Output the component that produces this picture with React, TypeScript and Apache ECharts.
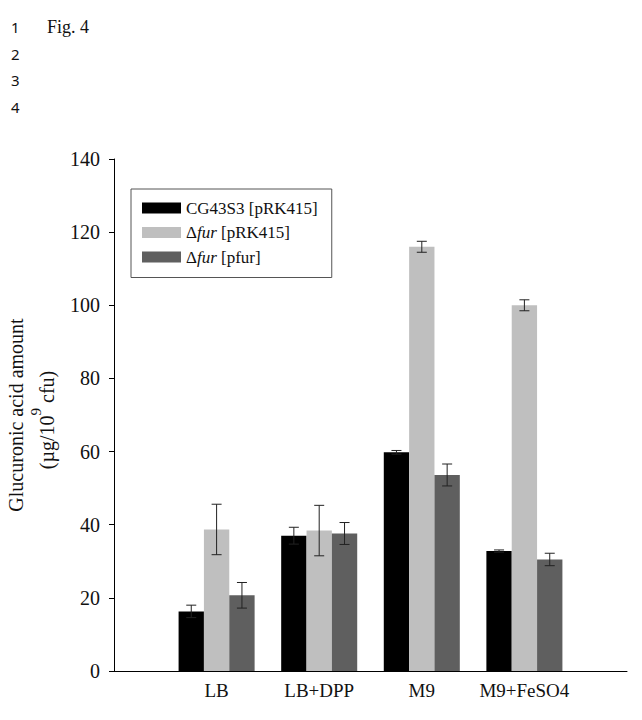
import React, { useEffect, useRef } from "react";
import * as echarts from "echarts";

// Growth conditions along the x axis
const CATEGORIES = ["LB", "LB+DPP", "M9", "M9+FeSO4"];

// Strains (legend order)
const SERIES_NAMES = ["CG43S3 [pRK415]", "Δfur [pRK415]", "Δfur [pfur]"];
const SERIES_COLORS = ["#000000", "#bfbfbf", "#5f5f5f"];

// Glucuronic acid amount (µg/10^9 cfu), means
const WT_MEAN = [16.3, 37.0, 59.8, 32.8];
const FUR_MEAN = [38.7, 38.4, 116.0, 100.0];
const COMP_MEAN = [20.7, 37.6, 53.6, 30.5];

// Standard deviations
const WT_SD = [1.7, 2.3, 0.5, 0.3];
const FUR_SD = [6.9, 6.9, 1.5, 1.5];
const COMP_SD = [3.5, 3.0, 3.0, 1.7];

// Y axis ticks
const Y_MIN = 0;
const Y_MAX = 140;
const Y_STEP = 20;

const SERIF = "Liberation Serif";
const BAR_FRACTION = 0.247; // each bar as a share of one category slot

function textWidth(text: string, font: string): number {
  const ctx = document.createElement("canvas").getContext("2d");
  if (!ctx) return text.length * 9;
  ctx.font = font;
  return ctx.measureText(text).width;
}

export default function App() {
  const ref = useRef<HTMLDivElement>(null);

  useEffect(() => {
    if (!ref.current) return;
    const chart = echarts.init(ref.current, undefined, { renderer: "svg" });

    // one empty slot at each end keeps a category's width of margin beside the groups
    const axisCats = ["", ...CATEGORIES, ""];
    const pad = (arr: number[]) => [null, ...arr, null];

    const means = [WT_MEAN, FUR_MEAN, COMP_MEAN];
    const sds = [WT_SD, FUR_SD, COMP_SD];

    const errData: number[][] = [];
    means.forEach((m, k) => {
      m.forEach((v, i) => {
        errData.push([i + 1, v, sds[k][i], k]);
      });
    });

    const barSeries = SERIES_NAMES.map((name, k) => ({
      name,
      type: "bar",
      data: pad(means[k]),
      barWidth: (BAR_FRACTION * 100).toFixed(1) + "%",
      barGap: "0%",
      itemStyle: { color: SERIES_COLORS[k] },
    }));

    const errorSeries = {
      type: "custom",
      z: 10,
      data: errData,
      encode: { x: 0, y: 1 },
      renderItem: (params: any, api: any) => {
        const ci = api.value(0);
        const v = api.value(1);
        const e = api.value(2);
        const k = api.value(3);
        const band = api.size([1, 0])[0];
        const bw = band * BAR_FRACTION;
        const cx = api.coord([ci, v])[0] + (k - 1) * bw;
        const yTop = api.coord([ci, v + e])[1];
        const yBot = api.coord([ci, v - e])[1];
        const cap = 5;
        const style = { stroke: "#222222", lineWidth: 1 };
        return {
          type: "group",
          children: [
            { type: "line", shape: { x1: cx, y1: yTop, x2: cx, y2: yBot }, style },
            { type: "line", shape: { x1: cx - cap, y1: yTop, x2: cx + cap, y2: yTop }, style },
            { type: "line", shape: { x1: cx - cap, y1: yBot, x2: cx + cap, y2: yBot }, style },
          ],
        };
      },
    };

    // second title line "(µg/10⁹ cfu)", laid out piece by piece, reading bottom to top
    const mainFont = "20px Liberation Serif";
    const supFont = "15px Liberation Serif";
    const partA = "(µg/10";
    const partB = "9";
    const partC = " cfu)";
    const wA = textWidth(partA, mainFont);
    const wB = textWidth(partB, supFont);
    const wC = textWidth(partC, mainFont);
    const unitCenterY = 420;
    const unitStart = unitCenterY + (wA + wB + wC) / 2;
    const rotated = (x: number, y: number, text: string, font: string) => ({
      type: "text",
      x,
      y,
      rotation: Math.PI / 2,
      style: { text, font, fill: "#111", align: "left", verticalAlign: "middle" },
    });

    chart.setOption({
      animation: false,
      backgroundColor: "#ffffff",
      grid: { left: 114, right: 15, top: 159, bottom: 49, containLabel: false },
      legend: {
        data: SERIES_NAMES,
        orient: "vertical",
        left: 131,
        top: 189,
        itemWidth: 39,
        itemHeight: 11,
        itemGap: 7.5,
        itemTextGap: 9,
        icon: "rect",
        padding: [10.5, 14, 12, 11],
        borderColor: "#555555",
        borderWidth: 1,
        backgroundColor: "#ffffff",
        textStyle: {
          fontFamily: SERIF,
          fontSize: 17,
          color: "#111111",
          lineHeight: 16,
          rich: {
            i: { fontFamily: SERIF, fontSize: 17, fontStyle: "italic", color: "#111111" },
          },
        },
        formatter: (name: string) => name.replace(/^Δfur/, "Δ{i|fur}"),
      },
      xAxis: {
        type: "category",
        data: axisCats,
        boundaryGap: false,
        axisLine: { lineStyle: { color: "#000000", width: 1 } },
        axisTick: { show: false },
        axisLabel: {
          interval: 0,
          margin: 10,
          fontFamily: SERIF,
          fontSize: 19,
          color: "#111111",
        },
        splitLine: { show: false },
      },
      yAxis: {
        type: "value",
        min: Y_MIN,
        max: Y_MAX,
        interval: Y_STEP,
        axisLine: { show: true, lineStyle: { color: "#000000", width: 1 } },
        axisTick: { show: true, inside: false, length: 5, lineStyle: { color: "#000000" } },
        axisLabel: {
          margin: 14,
          fontFamily: SERIF,
          fontSize: 20,
          color: "#111111",
        },
        splitLine: { show: false },
      },
      graphic: [
        // page line numbers and figure label
        { type: "text", left: 11, top: 19, style: { text: "1", font: "15px Noto Sans", fill: "#111" } },
        { type: "text", left: 11, top: 46, style: { text: "2", font: "15px Noto Sans", fill: "#111" } },
        { type: "text", left: 11, top: 72, style: { text: "3", font: "15px Noto Sans", fill: "#111" } },
        { type: "text", left: 11, top: 99, style: { text: "4", font: "15px Noto Sans", fill: "#111" } },
        { type: "text", left: 47, top: 18, style: { text: "Fig. 4", font: "18px Liberation Serif", fill: "#111" } },
        // y-axis title, first line
        {
          type: "text",
          x: 16,
          y: 415,
          rotation: Math.PI / 2,
          style: {
            text: "Glucuronic acid amount",
            font: mainFont,
            fill: "#111",
            align: "center",
            verticalAlign: "middle",
          },
        },
        // y-axis title, second line with superscript exponent
        rotated(47, unitStart, partA, mainFont),
        rotated(36, unitStart - wA, partB, supFont),
        rotated(47, unitStart - wA - wB, partC, mainFont),
      ],
      series: [...barSeries, errorSeries],
    });

    return () => chart.dispose();
  }, []);

  return (
    <div
      ref={ref}
      style={{ position: "fixed", left: 0, top: 0, width: 642, height: 720, background: "#fff" }}
    />
  );
}
